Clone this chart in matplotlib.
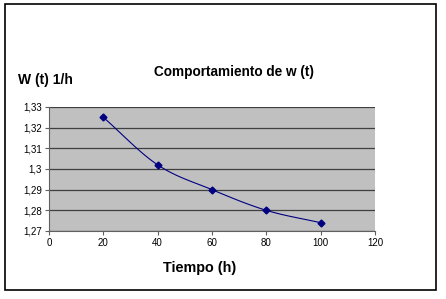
import numpy as np
import matplotlib
matplotlib.use("Agg")
import matplotlib.pyplot as plt
from matplotlib.patches import Rectangle

plt.rcParams['font.family'] = ['Liberation Sans', 'DejaVu Sans']

# data
tiempo = [20, 40, 60, 80, 100]
w_t = [1.325, 1.302, 1.290, 1.280, 1.274]
x_ticks = [0, 20, 40, 60, 80, 100, 120]
y_ticks = [1.27, 1.28, 1.29, 1.30, 1.31, 1.32, 1.33]
y_labels = ['1,27', '1,28', '1,29', '1,3', '1,31', '1,32', '1,33']


def smooth(x, y, n=30):
    # catmull-rom style smoothing like excel's smoothed line
    x = np.asarray(x, float)
    y = np.asarray(y, float)
    px = np.concatenate([[2 * x[0] - x[1]], x, [2 * x[-1] - x[-2]]])
    py = np.concatenate([[2 * y[0] - y[1]], y, [2 * y[-1] - y[-2]]])
    xs, ys = [], []
    t = np.linspace(0, 1, n)
    for i in range(1, len(px) - 2):
        for p, out in ((px, xs), (py, ys)):
            p0, p1, p2, p3 = p[i - 1], p[i], p[i + 1], p[i + 2]
            out.extend(0.5 * (2 * p1 + (-p0 + p2) * t
                              + (2 * p0 - 5 * p1 + 4 * p2 - p3) * t ** 2
                              + (-p0 + 3 * p1 - 3 * p2 + p3) * t ** 3))
    return xs, ys


fig = plt.figure(figsize=(4.46, 2.99), dpi=100)
fig.patches.append(Rectangle((5 / 446, 1 - 290 / 299), 431 / 446, 286 / 299,
                             transform=fig.transFigure, fill=False,
                             edgecolor='black', linewidth=1.2))

ax = fig.add_axes([49 / 446, 1 - 231 / 299, 326 / 446, 124 / 299])
ax.set_facecolor('#c0c0c0')
sx, sy = smooth(tiempo, w_t)
ax.plot(sx, sy, color='#000080', linewidth=0.8)
ax.plot(tiempo, w_t, linestyle='none', marker='D', markersize=3.5, color='#000080')

ax.set_xlim(0, 120)
ax.set_ylim(1.27, 1.33)
ax.set_xticks(x_ticks)
ax.set_yticks(y_ticks)
ax.set_yticklabels(y_labels)
ax.grid(axis='y', color='#404040', linewidth=0.9)
ax.set_axisbelow(True)
for s in ('top', 'right'):
    ax.spines[s].set_visible(False)
for s in ('left', 'bottom'):
    ax.spines[s].set_color('#606060')
ax.tick_params(labelsize=7, length=3, width=0.8, color='#606060', pad=2)

fig.text(234 / 446, 1 - 72 / 299, 'Comportamiento de w (t)', ha='center', va='center',
         fontsize=9.8, fontweight='bold')
fig.text(18 / 446, 1 - 80 / 299, 'W (t) 1/h', ha='left', va='center',
         fontsize=10, fontweight='bold')
fig.text(200 / 446, 1 - 268 / 299, 'Tiempo (h)', ha='center', va='center',
         fontsize=10.4, fontweight='bold')

fig.savefig('out.png', dpi=100, facecolor='white')
